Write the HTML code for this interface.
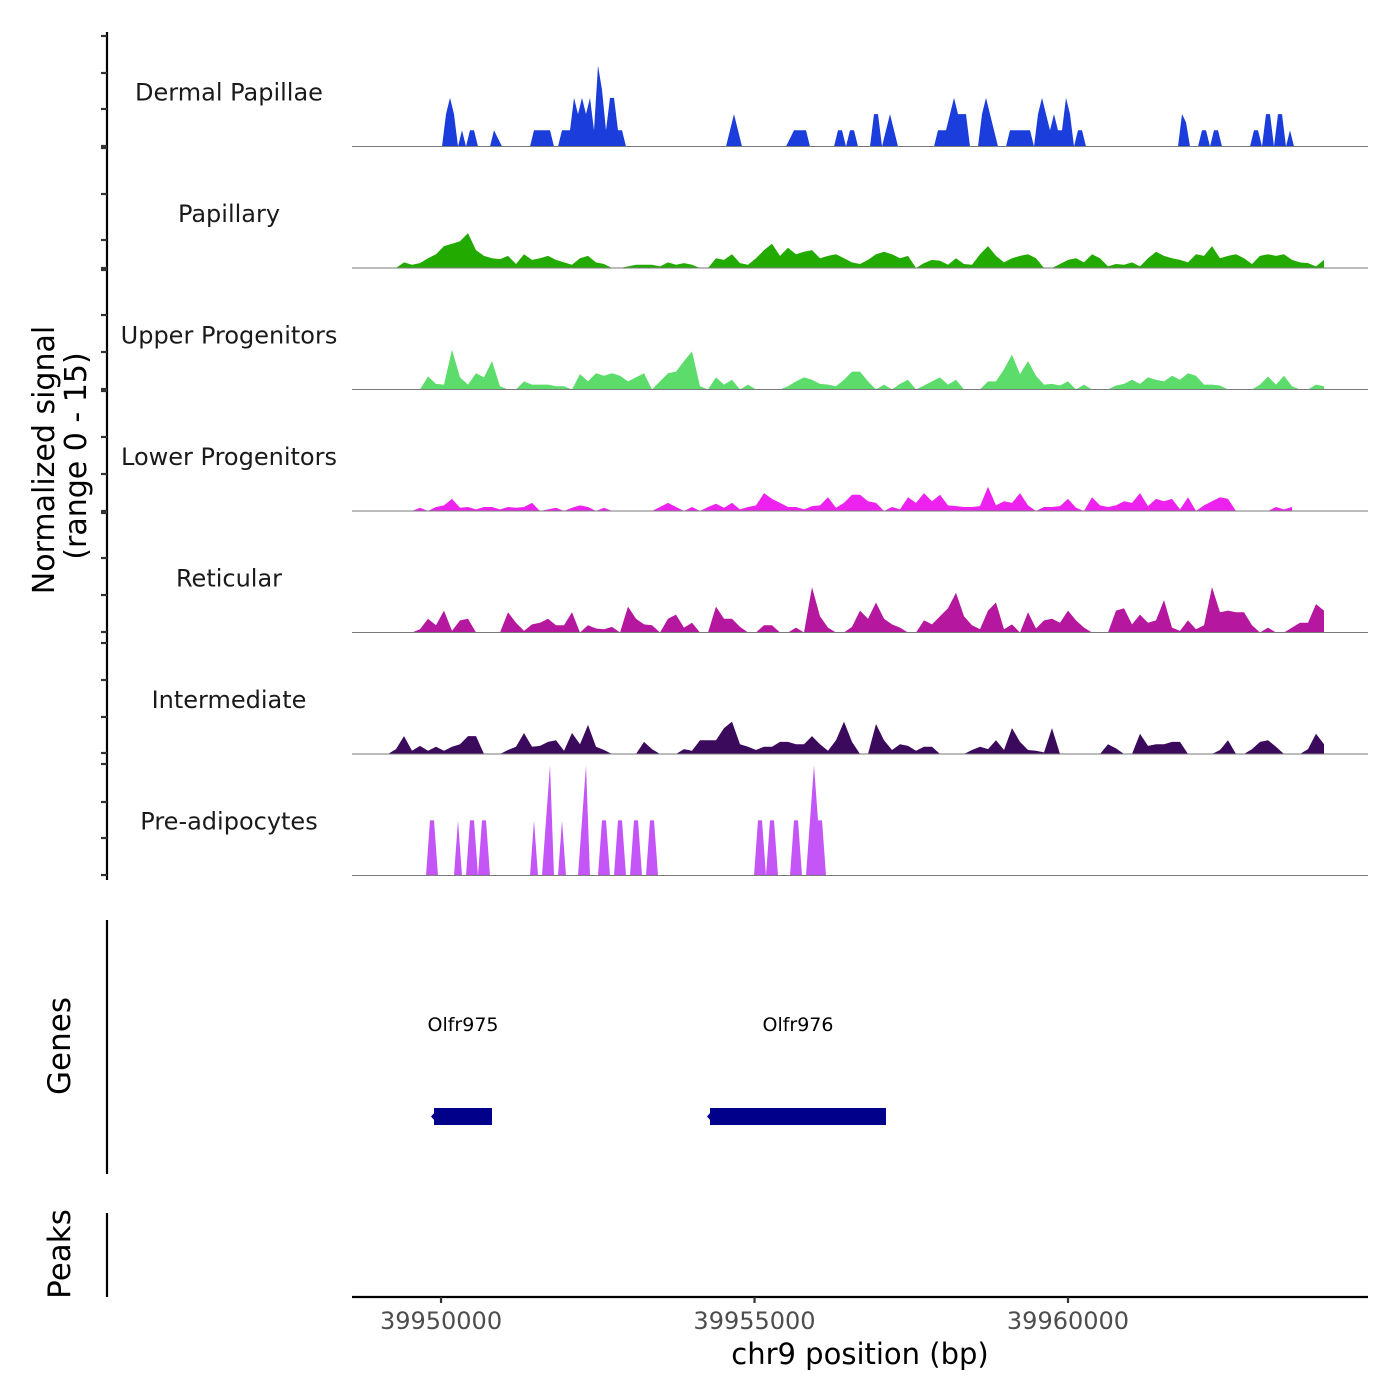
<!DOCTYPE html>
<html><head><meta charset="utf-8"><title>Coverage plot</title>
<style>
html,body{margin:0;padding:0;background:#fff;}
svg{display:block;font-family:"DejaVu Sans","Liberation Sans",sans-serif;}
</style></head>
<body>
<svg id="chart" width="1400" height="1400" viewBox="0 0 1400 1400" xmlns="http://www.w3.org/2000/svg">
  <rect x="0" y="0" width="1400" height="1400" fill="#fff"/>
  <g id="tracks"></g>
  <g id="leftaxis"></g>
  <text transform="translate(54,460) rotate(-90)" text-anchor="middle" font-size="30" fill="#000">Normalized signal</text>
  <text transform="translate(86,456) rotate(-90)" text-anchor="middle" font-size="30" fill="#000">(range 0 - 15)</text>
  <line x1="107" y1="920" x2="107" y2="1174" stroke="#000" stroke-width="2.2"/>
  <text transform="translate(70,1046) rotate(-90)" text-anchor="middle" font-size="31" fill="#000">Genes</text>
  <line x1="107" y1="1213" x2="107" y2="1297" stroke="#000" stroke-width="2.2"/>
  <text transform="translate(70,1254) rotate(-90)" text-anchor="middle" font-size="31" fill="#000">Peaks</text>
  <g id="genes"></g>
  <line x1="352" y1="1297" x2="1368" y2="1297" stroke="#000" stroke-width="2.2"/>
  <g id="xticks"></g>
  <text x="860" y="1364" text-anchor="middle" font-size="29" fill="#000">chr9 position (bp)</text>
</svg>
<script>
// ---- data ----
const trackNames = ["Dermal Papillae","Papillary","Upper Progenitors","Lower Progenitors","Reticular","Intermediate","Pre-adipocytes"];
const trackColors = ["#1a3ddb","#22aa00","#5cdc6a","#ee22ee","#b5179e","#3b0a5c","#c455f7"];
const xTicks = [39950000, 39955000, 39960000];
const xTickLabels = ["39950000","39955000","39960000"];
const geneNames = ["Olfr975","Olfr976"];
const geneStarts = [39949888, 39954290];
const geneEnds = [39950813, 39957097];
// sparse tracks: [binIndex, signal] on fine bins
const dermalPapillae = [[23,4],[24,6],[25,4],[27,2],[29,2],[30,2],[35,2],[36,1],[45,2],[46,2],[47,2],[48,2],[49,2],[52,2],[53,2],[54,2],[55,6],[56,4],[57,6],[58,4],[59,6],[60,2],[61,10],[62,7],[63,2],[64,6],[65,6],[66,2],[67,2],[94,2],[95,4],[96,2],[109,1],[110,2],[111,2],[112,2],[113,2],[121,2],[122,2],[124,2],[125,2],[130,4],[131,4],[133,2],[134,4],[135,2],[146,2],[147,2],[148,2],[149,4],[150,6],[151,4],[152,4],[153,4],[157,4],[158,6],[159,4],[160,2],[164,2],[165,2],[166,2],[167,2],[168,2],[169,2],[171,4],[172,6],[173,4],[174,2],[175,4],[176,2],[177,2],[178,6],[179,4],[181,2],[182,2],[207,4],[208,3],[212,2],[213,2],[215,2],[216,2],[225,2],[226,2],[228,4],[229,4],[231,4],[232,4],[234,2]];
const preAdipocytes = [[19,6.8],[20,6.8],[26,6.8],[29,6.8],[30,6.8],[32,6.8],[33,6.8],[45,6.8],[48,6.8],[49,13.6],[52,6.8],[57,6.8],[58,13.6],[62,6.8],[63,6.8],[66,6.8],[67,6.8],[70,6.8],[71,6.8],[74,6.8],[75,6.8],[101,6.8],[102,6.8],[104,6.8],[105,6.8],[110,6.8],[111,6.8],[114,6.8],[115,13.6],[116,6.8],[117,6.8]];
// dense tracks: signal per coarse bin
const papillary = [0,0,0,0,0,0,0.7,0.4,0.6,1.2,1.7,2.7,3,3.3,4.3,2.2,1.5,1.2,1.1,1.5,0.5,1.7,1,1.2,1.5,1,0.7,0.4,1.2,1.5,0.7,0.5,0,0,0.2,0.4,0.4,0.4,0.2,0.7,0.4,0.6,0.4,0,0,1.2,1,1.7,0.6,0.4,1.2,2.2,3,1.5,2.5,1.7,2,2.2,1.2,1.5,1.7,1.2,0.7,0.5,1,1.7,2,1.7,1.2,1.5,0,0.6,1,0.9,0.4,1.2,0.5,0.4,1.7,2.7,1.5,0.7,1.2,1.5,1.7,1.2,0,0,0.5,1,1.2,0.7,1.7,1.2,0.2,0.5,0.4,0.7,0.2,1.2,2,1.5,1.2,1,0.7,1.7,1.5,2.7,1.2,1.5,1.7,1.2,0.5,1.5,1.7,1.5,1.7,1,0.7,0.6,0.2,1];
const upperProgenitors = [0,0,0,0,0,0,0,0,0,1.6,0.7,0.6,4.9,1.5,0.6,2,1.5,3.5,0.4,0,0,1,0.6,0.6,0.6,0.4,0.4,0,1.9,1,2,1.7,2,1.7,1,1.5,2,0,1,2,2.2,3.5,4.7,0.4,0,1.5,0.6,1.2,0,0.6,0,0,0,0,0.4,1,1.5,1.2,0.7,0.6,0.4,1.2,2.2,2.2,1,0,0.6,0,0.7,1.2,0,0.5,1,1.5,0.6,1.2,0,0,0,1,1,2.5,4.3,1.9,3.5,1.7,0.6,0.7,0.5,1,0,0.6,0,0,0,0.5,0.7,1.2,0.7,1.5,1.2,1,1.7,1.2,2,1.7,0.6,0.6,0.5,0,0,0,0,0.6,1.6,0.6,1.7,0.4,0,0,0.6,0.4];
const lowerProgenitors = [0,0,0,0,0,0,0,0,0.4,0,0.5,0.7,1.5,0.4,0.5,0.2,0.5,0.5,0.2,0.5,0.4,0.5,1,0,0.2,0.4,0,0.4,0.7,0.5,0,0.4,0,0,0,0,0,0,0.5,1,0.5,0,0.5,0,0.5,0.9,0.4,1,0.2,0.5,0.7,2.2,1.5,1,0.5,0.5,0.2,0.6,0.7,1.7,0.4,1,2,2,1.2,1,0,0.5,0.2,1.7,1,2.2,1.2,2,0.7,0.6,0.5,0.5,0.6,3,0.7,1.2,1,2.2,0.7,0,0.5,0.5,0.6,1.5,0.4,0,1.7,0.7,0.5,0.7,1.2,1,2.2,0.6,1.5,1.2,1.5,0.2,1.7,0,0.7,1.2,1.7,1.5,0,0,0,0,0,0.5,0.2,0.5];
const reticular = [0,0,0,0,0,0,0,0,0.4,1.7,0.9,2.7,0.2,1.5,1.7,0,0,0,0,2.5,1.2,0.2,1,1.2,1.7,0.9,0.9,2.5,0,0.9,0.5,0.4,0.7,0,3.2,1.7,1,0.9,0,1.7,2.2,0.6,1.2,0,0,3.2,1.7,1.7,0.7,0,0,0.9,0.9,0,0,0.6,0,5.6,2,0.6,0,0,0.7,2.7,1.7,3.7,1.7,1,0.6,0,0,1.5,1,2,3,4.9,2,0.9,0.4,2.7,3.7,0.4,1,0,2.5,0.5,1.5,1.7,1.2,2.7,1.5,0.6,0,0,0,2.7,3,1,2.2,1.2,1.5,4,0.6,0.2,1.5,0.4,0.9,5.6,2.5,2.7,2.5,2.5,0.9,0,0.6,0,0,0.6,1.2,1.2,3.5,2.7];
const intermediate = [0,0,0,0,0,0.6,2.2,0.4,1,0.4,0.9,0.4,0.9,1.2,2.2,2.2,0,0,0,0.5,0.9,2.6,0.9,1,1.5,1.7,0.4,2.6,1.2,3.6,0.9,0.5,0,0,0,0,1.5,0.6,0,0,0,0.6,0.4,1.7,1.7,1.7,3.2,4,1.2,0.9,0.5,0.9,0.9,1.5,1.5,1.2,1.2,2.2,1.2,0.4,1.7,4,1.5,0,0,3.7,1.7,0.5,1.2,1,0.4,0.9,0.9,0,0,0,0,0.5,0.9,0.6,1.7,0.5,3.2,1.5,0.5,0.4,0.2,3.2,0,0,0,0,0,0,1.2,0.7,0,0,2.5,1,1.2,1.2,1.5,1.5,0,0,0,0,0.5,1.7,0,0,0.6,1.5,1.7,0.9,0,0,0,0.6,2.5,1.2];

// ---- scales ----
const XMIN = 39948580, XMAX = 39964785;
const PX_L = 352, PX_R = 1368;
const FINE_BIN_BP = (XMAX - XMIN) * 4 / (PX_R - PX_L);
const COARSE_BIN_BP = FINE_BIN_BP * 2;
const Y_MAX = 15, TRACK_H = 121.5, TOP0 = 25;
function xScale(bp){ return PX_L + (bp - XMIN) * (PX_R - PX_L) / (XMAX - XMIN); }
function baseY(k){ return TOP0 + (k + 1) * TRACK_H; }
function yScale(k, v){ return baseY(k) - Math.min(v, Y_MAX) / Y_MAX * TRACK_H; }

const NS = "http://www.w3.org/2000/svg";
function mk(tag, attrs, parent){
  const el = document.createElementNS(NS, tag);
  for (const a in attrs) el.setAttribute(a, attrs[a]);
  parent.appendChild(el);
  return el;
}

function sparseToDense(pairs){
  let n = 0; pairs.forEach(p => { if (p[0] + 1 > n) n = p[0] + 1; });
  const arr = new Array(n + 2).fill(0);
  pairs.forEach(p => { arr[p[0]] = p[1]; });
  return arr;
}

const trackSeries = [
  {vals: sparseToDense(dermalPapillae), bin: FINE_BIN_BP},
  {vals: papillary, bin: COARSE_BIN_BP},
  {vals: upperProgenitors, bin: COARSE_BIN_BP},
  {vals: lowerProgenitors, bin: COARSE_BIN_BP},
  {vals: reticular, bin: COARSE_BIN_BP},
  {vals: intermediate, bin: COARSE_BIN_BP},
  {vals: sparseToDense(preAdipocytes), bin: FINE_BIN_BP}
];

const tracksG = document.getElementById('tracks');
trackNames.forEach((name, k) => {
  const g = mk('g', {}, tracksG);
  
  
  const s = trackSeries[k];
  const b = baseY(k);
  let d = 'M' + xScale(XMIN + 0.5 * s.bin).toFixed(2) + ',' + b;
  s.vals.forEach((v, i) => {
    d += ' L' + xScale(XMIN + (i + 0.5) * s.bin).toFixed(2) + ',' + yScale(k, v).toFixed(2);
  });
  d += ' L' + xScale(XMIN + (s.vals.length - 0.5) * s.bin).toFixed(2) + ',' + b + ' Z';
  const area = mk('path', {d: d, fill: trackColors[k], stroke: 'none'}, g);
  
  
  const bl = mk('line', {x1: PX_L, x2: PX_R, y1: b, y2: b, stroke: '#7a7a7a', 'stroke-width': 1}, g);
  
  
  const t = mk('text', {x: 229, y: b - 46, 'text-anchor': 'middle', 'font-size': 24, fill: '#1a1a1a'}, g);
  t.textContent = name;
  
  
});

// left signal axis
const la = document.getElementById('leftaxis');
const axl = mk('line', {x1: 107, x2: 107, y1: 32, y2: 880, stroke: '#000', 'stroke-width': 2.2}, la);


const tickYs = [36,73,109,146,148,194,240,268,270,315,352,389,391,437,474,511,513,558,595,632,643,680,717,753,764,802,838,875];
tickYs.forEach(y => {
  const tk = mk('line', {x1: 101, x2: 107, y1: y, y2: y, stroke: '#333', 'stroke-width': 2.2}, la);
  
  
});

// genes
const gg = document.getElementById('genes');
geneNames.forEach((gn, i) => {
  const x1 = xScale(geneStarts[i]), x2 = xScale(geneEnds[i]);
  const r = mk('rect', {x: x1, y: 1108, width: x2 - x1, height: 17, fill: '#00008b'}, gg);
  
  
  const ar = mk('path', {d: 'M' + (x1 + 1) + ',1112 L' + (x1 - 3) + ',1116.5 L' + (x1 + 1) + ',1121 Z', fill: '#00008b'}, gg);
  
  
  const t = mk('text', {x: (x1 + x2) / 2, y: 1031, 'text-anchor': 'middle', 'font-size': 19, fill: '#000'}, gg);
  t.textContent = gn;
  
  
});

// x ticks
const xt = document.getElementById('xticks');
xTicks.forEach((v, i) => {
  const x = xScale(v);
  const l = mk('line', {x1: x, x2: x, y1: 1297, y2: 1303, stroke: '#333', 'stroke-width': 2.2}, xt);
  
  
  const t = mk('text', {x: x, y: 1329, 'text-anchor': 'middle', 'font-size': 24, fill: '#4d4d4d'}, xt);
  t.textContent = xTickLabels[i];
  
  
});
</script>
</body></html>
